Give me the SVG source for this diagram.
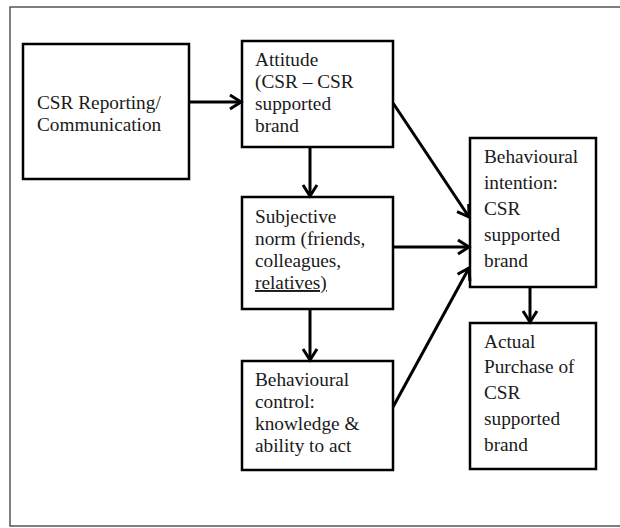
<svg xmlns="http://www.w3.org/2000/svg" width="620" height="528" viewBox="0 0 620 528">
<style>
.box{fill:#fff;stroke:#000;stroke-width:2.5}
.t{font-family:'Liberation Serif','DejaVu Serif',serif;font-size:19.3px;fill:#1a1a1a}
.c{stroke:#000;stroke-width:3;fill:none;marker-end:url(#ah)}
.frame{stroke:#555;stroke-width:1.5;fill:none}
</style>
<defs>
<marker id="ah" markerUnits="userSpaceOnUse" markerWidth="16" markerHeight="18" refX="13" refY="9" orient="auto" viewBox="0 0 16 18">
<path d="M2,2 L13,9 L2,16" fill="none" stroke="#000" stroke-width="3" stroke-linejoin="miter"/>
</marker>
</defs>
<rect width="620" height="528" fill="#fff"/>
<path class="frame" d="M620,7 L10,7 L10,526 L620,526"/>
<g id="csr">
<rect class="box" x="23" y="44" width="166" height="135"/>
<text class="t" x="37" y="109">CSR Reporting/</text>
<text class="t" x="37" y="131">Communication</text>
</g>
<g id="attitude">
<rect class="box" x="242" y="41" width="151" height="106"/>
<text class="t" x="255" y="66">Attitude</text>
<text class="t" x="255" y="88">(CSR – CSR</text>
<text class="t" x="255" y="110">supported</text>
<text class="t" x="255" y="132">brand</text>
</g>
<g id="norm">
<rect class="box" x="242" y="197" width="151" height="112"/>
<text class="t" x="255" y="223">Subjective</text>
<text class="t" x="255" y="245">norm (friends,</text>
<text class="t" x="255" y="267">colleagues,</text>
<text class="t" x="255" y="289" text-decoration="underline">relatives)</text>
</g>
<g id="control">
<rect class="box" x="242" y="361" width="151" height="109"/>
<text class="t" x="255" y="386">Behavioural</text>
<text class="t" x="255" y="408">control:</text>
<text class="t" x="255" y="430">knowledge &amp;</text>
<text class="t" x="255" y="452">ability to act</text>
</g>
<g id="intention">
<rect class="box" x="470" y="138" width="126" height="149"/>
<text class="t" x="484" y="163">Behavioural</text>
<text class="t" x="484" y="189">intention:</text>
<text class="t" x="484" y="215">CSR</text>
<text class="t" x="484" y="241">supported</text>
<text class="t" x="484" y="267">brand</text>
</g>
<g id="purchase">
<rect class="box" x="470" y="323" width="126" height="146"/>
<text class="t" x="484" y="348">Actual</text>
<text class="t" x="484" y="373">Purchase of</text>
<text class="t" x="484" y="399">CSR</text>
<text class="t" x="484" y="425">supported</text>
<text class="t" x="484" y="451">brand</text>
</g>
<g id="connectors">
<line class="c" x1="189" y1="102" x2="241" y2="102"/>
<line class="c" x1="310" y1="147" x2="310" y2="196"/>
<line class="c" x1="310" y1="309" x2="310" y2="360"/>
<line class="c" x1="393" y1="103" x2="469" y2="217"/>
<line class="c" x1="393" y1="247" x2="469" y2="247"/>
<line class="c" x1="393" y1="407" x2="469" y2="268"/>
<line class="c" x1="530" y1="287" x2="530" y2="322"/>
</g>
</svg>
